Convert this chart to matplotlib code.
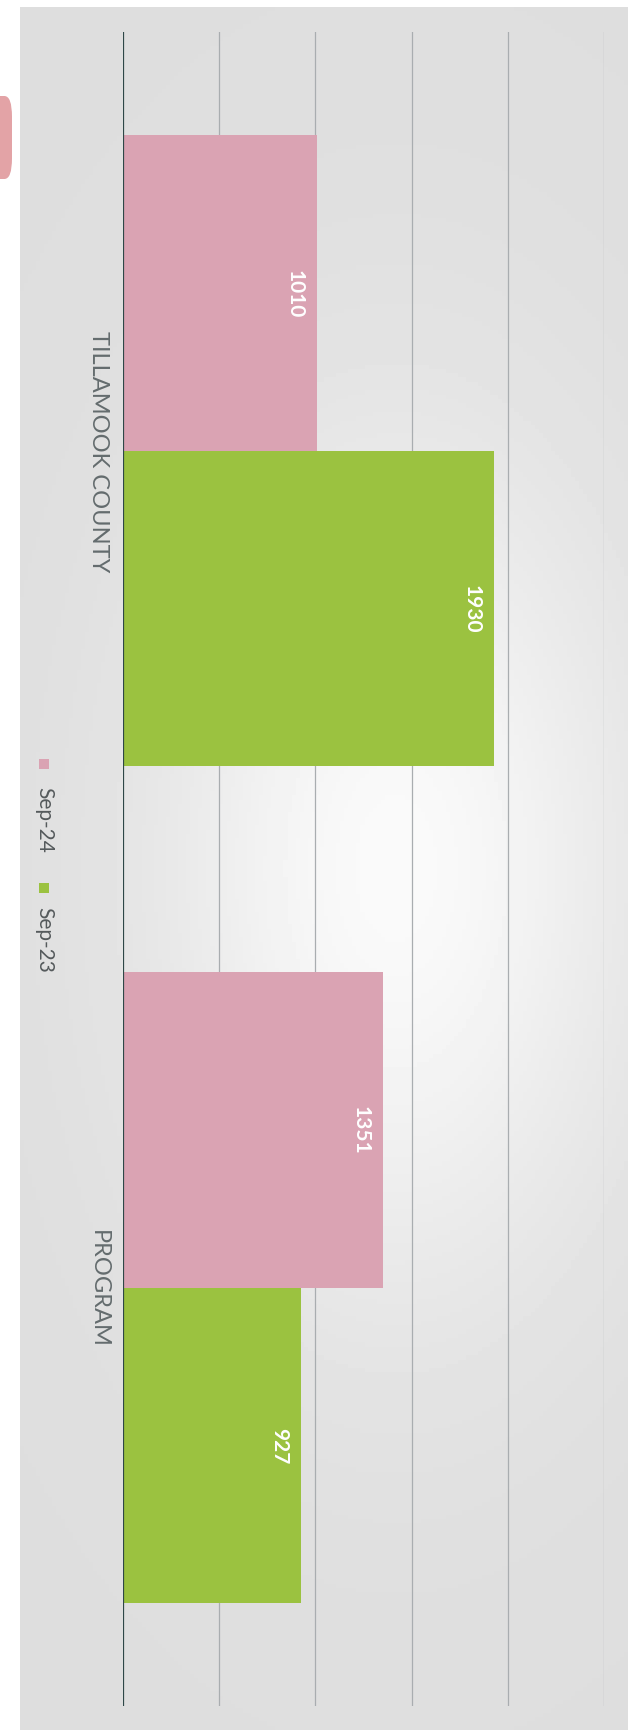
import matplotlib
matplotlib.use("Agg")
import matplotlib.pyplot as plt
import numpy as np
from matplotlib.patches import Rectangle, FancyBboxPatch
from matplotlib.transforms import blended_transform_factory

# data
categories = ["TILLAMOOK COUNTY", "PROGRAM"]
series_names = ["Sep-24", "Sep-23"]
sep24 = [1010, 1351]
sep23 = [1930, 927]
colors = ["#daa3b3", "#9bc240"]

W, H = 636, 1731
fig = plt.figure(figsize=(W / 100, H / 100), dpi=100, facecolor="white")

# scanned paper background, grey with a lighter middle
bg = fig.add_axes([20 / W, 0, 608 / W, 1 - 8 / H], zorder=0)
yy, xx = np.mgrid[0:1:400j, 0:1:150j]
shade = 0.87 + 0.11 * np.exp(-(((xx - 0.62) / 0.38) ** 2 + ((yy - 0.5) / 0.24) ** 2))
bg.imshow(np.clip(shade, 0, 1), cmap="gray", vmin=0, vmax=1, aspect="auto",
          extent=[0, 1, 0, 1])
bg.axis("off")

# little pink tab at the left edge
fig.add_artist(FancyBboxPatch((-8 / W, 1 - 180 / H), 20 / W, 83 / H,
                              boxstyle="round,pad=0,rounding_size=0.012",
                              transform=fig.transFigure, facecolor="#e3a3a6",
                              edgecolor="none"))

ax = fig.add_axes([123 / W, 24 / H, 481 / W, 1 - 57 / H], zorder=2)
ax.set_facecolor("none")

y = np.arange(len(categories))
h = 0.377
b1 = ax.barh(y - h / 2, sep24, height=h, color=colors[0], zorder=3)
b2 = ax.barh(y + h / 2, sep23, height=h, color=colors[1], zorder=3)

ax.set_xlim(0, 2500)
ax.set_ylim(1.5, -0.5)
for g in np.arange(500, 2501, 500):
    ax.axvline(g, color="#a9adb0", lw=0.9, zorder=1)
ax.axvline(0, color="#2e4747", lw=1.6, zorder=4)

for bars, vals in [(b1, sep24), (b2, sep23)]:
    for bar, v in zip(bars, vals):
        ax.annotate(str(v), (v, bar.get_y() + bar.get_height() / 2),
                    xytext=(-9, 0), textcoords="offset points",
                    rotation=-90, ha="right", va="center", color="white",
                    fontsize=15, fontweight="bold", family="Lato", zorder=5)

ax.set_xticks([])
ax.set_yticks([])
for s in ax.spines.values():
    s.set_visible(False)

# category labels, rotated like the scan
tr = blended_transform_factory(fig.transFigure, ax.transData)
for i, c in enumerate(categories):
    ax.text(98 / W, y[i], c, transform=tr, rotation=-90, ha="center",
            va="center", fontsize=17, color="#646c6e", family="Lato")

# legend, rotated
lx = 44 / W
sq = 10
for yc_sq, yc_txt, name, col in [(765, 820, series_names[0], colors[0]),
                                 (889, 940, series_names[1], colors[1])]:
    fig.add_artist(Rectangle((lx - sq / 2 / W, 1 - (yc_sq + sq / 2) / H),
                             sq / W, sq / H, transform=fig.transFigure,
                             facecolor=col, edgecolor="none"))
    fig.text(lx, 1 - yc_txt / H, name, rotation=-90, ha="center", va="center",
             fontsize=15, color="#555a5c", family="Lato")

fig.savefig("out.png", dpi=100)
